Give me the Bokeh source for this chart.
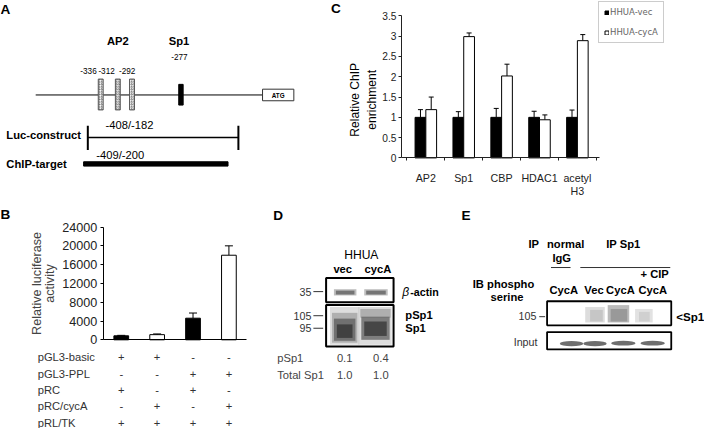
import math
from bokeh.plotting import figure
from bokeh.models import (Range1d, LinearAxis, FixedTicker, Legend, LegendItem, Label,
                          Whisker, TeeHead, ColumnDataSource, NumeralTickFormatter)
from bokeh.core.properties import value
from bokeh.embed import file_html
from bokeh.resources import INLINE

# ---------------- data ----------------
# Panel A: promoter map
a_ap2_sites = ["-336", "-312", "-292"]
a_sp1_site = "-277"
a_factor_names = ["AP2", "Sp1"]
a_luc_span = "-408/-182"
a_chip_span = "-409/-200"
a_track_names = ["Luc-construct", "ChIP-target"]

# Panel B: luciferase reporter
b_values = [850, 1100, 4600, 18000]
b_errors = [100, 150, 1100, 2000]
b_yticks = [0, 4000, 8000, 12000, 16000, 20000, 24000]
b_ylabel = "Relative luciferase\nactivity"
b_rows = ["pGL3-basic", "pGL3-PPL", "pRC", "pRC/cycA", "pRL/TK"]
b_table = [["+", "+", "-", "-"],
           ["-", "-", "+", "+"],
           ["+", "-", "+", "-"],
           ["-", "+", "-", "+"],
           ["+", "+", "+", "+"]]

# Panel C: ChIP enrichment
c_categories = ["AP2", "Sp1", "CBP", "HDAC1", "acetyl\nH3"]
c_series = ["HHUA-vec", "HHUA-cycA"]
c_vec = [1.0, 1.0, 1.0, 1.0, 1.0]
c_vec_err = [0.19, 0.14, 0.22, 0.15, 0.18]
c_cyca = [1.19, 2.99, 2.02, 0.94, 2.89]
c_cyca_err = [0.31, 0.09, 0.29, 0.12, 0.15]
c_yticks = [0, 0.5, 1, 1.5, 2, 2.5, 3, 3.5]
c_ylabel = "Relative ChIP\nenrichment"

# Panel D: western blot
d_cell = "HHUA"
d_lanes = ["vec", "cycA"]
d_markers = ["35", "105", "95"]
d_quant_rows = ["pSp1", "Total Sp1"]
d_psp1 = ["0.1", "0.4"]
d_total = ["1.0", "1.0"]

# Panel E: IP blot
e_lanes = ["CycA", "Vec", "CycA", "CycA"]
e_marker = "105"

# ---------------- layout ----------------
FONT = "Liberation Sans"
FS = 0.97
W, H = 704, 428
RW, RH = 720, 444   # drawing units (reference pixels)

p = figure(width=W, height=H, x_range=Range1d(0, RW), y_range=Range1d(RH, 0),
           output_backend="svg", toolbar_location=None,
           x_axis_type=None, y_axis_type=None, min_border=0)
p.outline_line_color = None
p.background_fill_color = "white"
p.border_fill_color = "white"


def lab(x, y, s, size, bold=False, italic=False, align="left", color="black",
        angle=0.0, font=FONT, baseline="middle"):
    style = "normal"
    if bold and italic:
        style = "bold italic"
    elif bold:
        style = "bold"
    elif italic:
        style = "italic"
    p.add_layout(Label(x=x, y=y, text=s, text_font=font,
                       text_font_size=f"{size * FS:.1f}px", text_font_style=style,
                       text_align=align, text_baseline=baseline, text_color=color,
                       angle=angle))


# panel letters
for letter, (lx, ly) in zip("ABCDE", [(5, 9), (5, 222), (343, 8), (284, 223), (476, 223)]):
    lab(lx, ly, letter, 14, bold=True, align="center")

# ---------- Panel A ----------
p.segment(x0=36, y0=98, x1=268, y1=98, line_color="black", line_width=1)
p.quad(left=268, right=300, top=92, bottom=104, fill_color="white", line_color="#333", line_width=1)
lab(284, 98.5, "ATG", 6.5, bold=True, align="center")
ap2_x = [102.5, 120, 134.5]
p.quad(left=[x - 2.5 for x in ap2_x], right=[x + 2.5 for x in ap2_x], top=81.5, bottom=113.5,
       fill_color="white", hatch_pattern="right_diagonal_line", hatch_color="#666",
       hatch_scale=2.5, hatch_weight=0.8, line_color="#555", line_width=1)
p.quad(left=182.3, right=186.8, top=87, bottom=108.5, fill_color="black", line_color="black")
lab(120, 42, a_factor_names[0], 11.5, bold=True, align="center")
lab(182.5, 42, a_factor_names[1], 11.5, bold=True, align="center")
lab(183, 59, a_sp1_site, 8.5, align="center")
for sx_, s in zip([90, 108.5, 129.5], a_ap2_sites):
    lab(sx_, 73, s, 8.5, align="center")
lab(132, 129, a_luc_span, 11.5, align="center")
lab(6, 140, a_track_names[0], 11.5, bold=True)
p.segment(x0=89.3, y0=142, x1=243.3, y1=142, line_color="black", line_width=1.5)
p.segment(x0=[89.3, 243.3], y0=[130, 130], x1=[89.3, 243.3], y1=[155, 155],
          line_color="black", line_width=2)
lab(122.5, 160, a_chip_span, 11.5, align="center")
lab(6, 169.5, a_track_names[1], 11.5, bold=True)
p.quad(left=85, right=232.7, top=167.3, bottom=171.8, fill_color="black", line_color="black")

# ---------- Panel C ----------
C_X0, C_STEP = 435.0, 38.75
C_Y0, C_YTOP, C_YMAX = 163.3, 16.0, 3.5
kC = (C_Y0 - C_YTOP) / C_YMAX
p.extra_x_ranges["xC"] = Range1d((0 - C_X0) / C_STEP, (RW - C_X0) / C_STEP)
p.extra_y_ranges["yC"] = Range1d((C_Y0 - RH) / kC, C_Y0 / kC)
CW = 0.284
c_idx = list(range(len(c_categories)))
srcC = ColumnDataSource(dict(
    xv=[i - CW / 2 for i in c_idx], xc=[i + CW / 2 for i in c_idx],
    vec=c_vec, cyca=c_cyca,
    vec_up=[v + e for v, e in zip(c_vec, c_vec_err)],
    cyca_up=[v + e for v, e in zip(c_cyca, c_cyca_err)]))
rv = p.vbar(x="xv", top="vec", bottom=0, width=CW, fill_color="black", line_color="black",
            line_width=1, source=srcC, x_range_name="xC", y_range_name="yC")
rc = p.vbar(x="xc", top="cyca", bottom=0, width=CW, fill_color="white", line_color="black",
            line_width=1, source=srcC, x_range_name="xC", y_range_name="yC")
for base, lo, up in [("xv", "vec", "vec_up"), ("xc", "cyca", "cyca_up")]:
    p.add_layout(Whisker(base=base, lower=lo, upper=up, source=srcC, x_range_name="xC",
                         y_range_name="yC", lower_head=None,
                         upper_head=TeeHead(size=5, line_width=1, line_color="black"),
                         line_color="black", line_width=1))

cyax = LinearAxis(x_range_name="xC", y_range_name="yC", fixed_location=(410 - C_X0) / C_STEP,
                  bounds=(0, C_YMAX), ticker=FixedTicker(ticks=c_yticks),
                  formatter=NumeralTickFormatter(format="0.[0]"))
cyax.major_tick_out = 3
cyax.major_tick_in = 0
cyax.minor_tick_out = 0
cyax.major_label_standoff = 2
cyax.major_label_text_font = FONT
cyax.major_label_text_font_size = f"{10.5 * FS:.1f}px"
cyax.major_label_text_color = "#222"
cyax.axis_line_color = "#222"
cyax.major_tick_line_color = "#222"
p.add_layout(cyax, "left")

cxax = LinearAxis(x_range_name="xC", y_range_name="yC", fixed_location=0,
                  bounds=((410 - C_X0) / C_STEP, (613 - C_X0) / C_STEP),
                  ticker=FixedTicker(ticks=c_idx, minor_ticks=[i - 0.5 for i in c_idx] + [c_idx[-1] + 0.5]),
                  major_label_overrides={i: c for i, c in zip(c_idx, c_categories)})
cxax.major_tick_out = 0
cxax.major_tick_in = 0
cxax.minor_tick_out = 3
cxax.minor_tick_in = 0
cxax.major_label_standoff = 11
cxax.major_label_text_font = FONT
cxax.major_label_text_font_size = f"{11 * FS:.1f}px"
cxax.major_label_text_color = "#222"
cxax.major_label_text_line_height = 1.05
cxax.axis_line_color = "#222"
cxax.minor_tick_line_color = "#222"
p.add_layout(cxax, "below")

lab(371, 103, c_ylabel, 12.5, align="center", angle=math.pi / 2)

legend = Legend(items=[LegendItem(label=c_series[0], renderers=[rv]),
                       LegendItem(label=c_series[1], renderers=[rc])],
                location=(598, 385), padding=5, spacing=10, margin=0,
                glyph_width=5, glyph_height=5, label_height=10, label_width=10,
                label_standoff=1, label_text_font="DejaVu Sans",
                label_text_font_size="8.5px", label_text_color="#666",
                border_line_color="#999", border_line_width=1,
                background_fill_color="white", background_fill_alpha=1)
p.add_layout(legend)

# ---------- Panel B ----------
B_X0, B_STEP = 123.5, 36.7
B_Y0, B_YTOP, B_YMAX = 352.0, 235.0, 24000
kB = (B_Y0 - B_YTOP) / B_YMAX
p.extra_x_ranges["xB"] = Range1d((0 - B_X0) / B_STEP, (RW - B_X0) / B_STEP)
p.extra_y_ranges["yB"] = Range1d((B_Y0 - RH) / kB, B_Y0 / kB)
B_FILL = ["black", "white", "black", "white"]
b_idx = list(range(len(b_values)))
srcB = ColumnDataSource(dict(x=b_idx, top=b_values,
                             upper=[v + e for v, e in zip(b_values, b_errors)], fill=B_FILL))
p.vbar(x="x", top="top", bottom=0, width=0.41, fill_color="fill", line_color="black",
       line_width=1, source=srcB, x_range_name="xB", y_range_name="yB")
p.add_layout(Whisker(base="x", lower="top", upper="upper", source=srcB, x_range_name="xB",
                     y_range_name="yB", lower_head=None,
                     upper_head=TeeHead(size=8, line_width=1, line_color="black"),
                     line_color="black", line_width=1))

byax = LinearAxis(x_range_name="xB", y_range_name="yB", fixed_location=(105 - B_X0) / B_STEP,
                  bounds=(0, B_YMAX), ticker=FixedTicker(ticks=b_yticks),
                  axis_label=b_ylabel)
byax.major_tick_out = 3
byax.major_tick_in = 0
byax.minor_tick_out = 0
byax.major_label_standoff = 3
byax.major_label_text_font = FONT
byax.major_label_text_font_size = f"{13 * FS:.1f}px"
byax.major_label_text_color = "#222"
byax.axis_label_text_font = FONT
byax.axis_label_text_font_style = "normal"
byax.axis_label_text_font_size = f"{13 * FS:.1f}px"
byax.axis_label_standoff = 2
byax.axis_label_text_line_height = 0.95
p.add_layout(byax, "left")

bxax = LinearAxis(x_range_name="xB", y_range_name="yB", fixed_location=0,
                  bounds=((105 - B_X0) / B_STEP, (252 - B_X0) / B_STEP),
                  ticker=FixedTicker(ticks=[]))
bxax.major_tick_out = 0
bxax.minor_tick_out = 0
bxax.major_label_text_font_size = "0px"
p.add_layout(bxax, "below")

# table under B
T_Y0, T_STEP = 370.0, 17.0
p.extra_y_ranges["tbl"] = Range1d((RH - T_Y0) / T_STEP, (0 - T_Y0) / T_STEP)
p.text(x=[38] * len(b_rows), y=list(range(len(b_rows))), text=b_rows, y_range_name="tbl",
       text_font=value(FONT), text_font_size=f"{11.5 * FS:.1f}px", text_align="left",
       text_baseline="middle", text_color="#333")
tx, ty, tt = [], [], []
for r, row in enumerate(b_table):
    for c, sym in enumerate(row):
        tx.append(c)
        ty.append(r)
        tt.append(sym)
p.text(x=tx, y=ty, text=tt, x_range_name="xB", y_range_name="tbl",
       text_font=value(FONT), text_font_size=f"{11.5 * FS:.1f}px", text_align="center",
       text_baseline="middle", text_color="#333")

# ---------- Panel D ----------
lab(369, 264, d_cell, 12.5, align="center")
for x_, s in zip([350, 386], d_lanes):
    lab(x_, 279, s, 11.5, bold=True, align="center")
# bands
p.quad(left=[341, 372], right=[364, 396], top=[299.5, 299.5], bottom=[306, 306],
       fill_color="#888", fill_alpha=0.55, line_color=None)
p.quad(left=[343, 374], right=[362, 394], top=[301, 301], bottom=[305, 305],
       fill_color="#555", fill_alpha=0.7, line_color=None)
p.quad(left=[337, 366], right=[367, 400], top=[318, 318], bottom=[357, 357],
       fill_color="#bbb", fill_alpha=0.5, line_color=None)
p.quad(left=[339, 368], right=[365, 399], top=[324, 320], bottom=[355, 329],
       fill_color="#888", fill_alpha=0.55, line_color=None)
p.quad(left=[341, 369], right=[363, 398], top=[330, 328], bottom=[353, 352],
       fill_color="#555", fill_alpha=0.7, line_color=None)
p.quad(left=[344, 372], right=[360, 395], top=[336, 333], bottom=[350, 348],
       fill_color="#222", fill_alpha=0.6, line_color=None)
p.quad(left=[333, 333], right=[402, 402], top=[288, 316], bottom=[313, 359],
       fill_color=None, line_color="black", line_width=2)
for (yy, s) in zip([302, 327, 340], d_markers):
    lab(318, yy, s, 11, align="right", color="#333")
p.segment(x0=[320, 320, 320], y0=[302, 327, 340], x1=[330, 330, 330], y1=[302, 327, 340],
          line_color="#333", line_width=1)
lab(411, 302, "β", 12.5, italic=True)
lab(419, 302.5, "-actin", 11, bold=True)
lab(414, 326.5, "pSp1", 11.5, bold=True)
lab(414, 340, "Sp1", 11.5, bold=True)
lab(283, 371, d_quant_rows[0], 11.5, color="#444")
lab(283, 389, d_quant_rows[1], 11.5, color="#444")
for x_, s in zip([352, 389], d_psp1):
    lab(x_, 371, s, 11.5, align="center", color="#444")
for x_, s in zip([352, 389], d_total):
    lab(x_, 389, s, 11.5, align="center", color="#444")

# ---------- Panel E ----------
lab(540, 253, "IP", 11.5, bold=True)
lab(578, 253, "normal", 11.5, bold=True, align="center")
lab(574, 267, "IgG", 11.5, bold=True, align="center")
p.segment(x0=563, y0=277, x1=583, y1=277, line_color="#333", line_width=1)
lab(637, 253, "IP Sp1", 11.5, bold=True, align="center")
p.segment(x0=593, y0=277, x1=685, y1=277, line_color="#333", line_width=1)
lab(669, 284, "+ CIP", 11.5, bold=True, align="center")
lab(483, 294, "IB  phospho", 11.5, bold=True)
lab(518, 308, "serine", 11.5, bold=True, align="center")
for x_, s in zip([576, 607, 634, 667], e_lanes):
    lab(x_, 300, s, 11.5, bold=True, align="center")
# bands
p.quad(left=[598, 621, 649], right=[618, 643, 667], top=[318, 316, 320], bottom=[334, 334, 334],
       fill_color=["#ddd", "#bbb", "#e2e2e2"], line_color=None)
p.quad(left=[603, 624, 653], right=[616, 641, 664], top=[321, 320, 323], bottom=[333, 333, 333],
       fill_color=["#c6c6c6", "#999", "#d0d0d0"], line_color=None)
p.ellipse(x=[584, 608, 637, 667], y=[356, 356, 355.5, 355.5], width=[24, 24, 25, 25],
          height=[5.5, 5.5, 5, 5], fill_color="#555", fill_alpha=0.85, line_color=None)
p.quad(left=[559, 559], right=[686, 686], top=[312, 344], bottom=[337, 362],
       fill_color=None, line_color="black", line_width=1.8)
lab(548, 327, e_marker, 11, align="right", color="#333")
p.segment(x0=551, y0=328, x1=557, y1=328, line_color="#333", line_width=1)
lab(691, 328, "<Sp1", 12, bold=True)
lab(537, 354, "Input", 11, align="center", color="#333")

open("out.html", "w").write(file_html(p, INLINE))
